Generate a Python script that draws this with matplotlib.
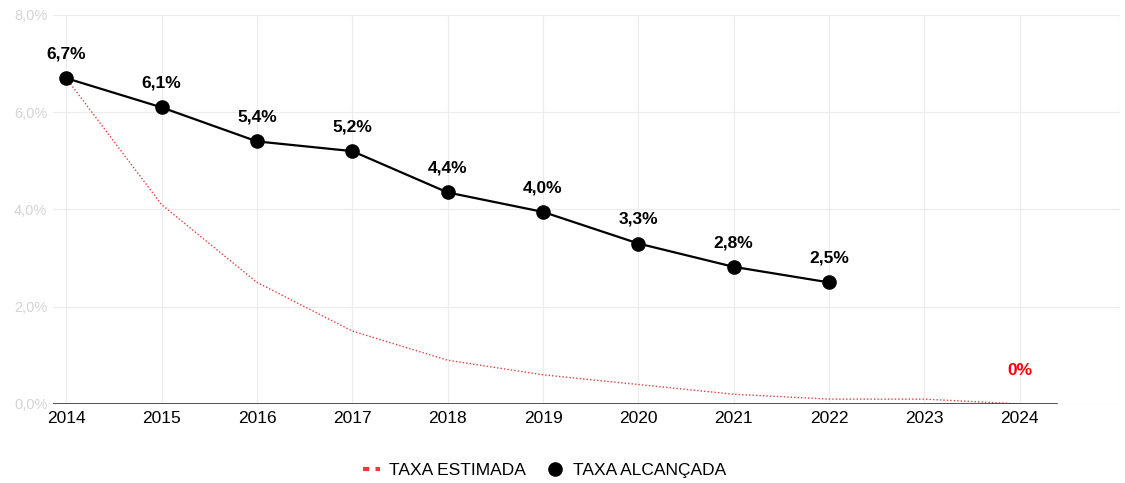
import matplotlib.pyplot as plt
from matplotlib.lines import Line2D

# dados
anos = [2014, 2015, 2016, 2017, 2018, 2019, 2020, 2021, 2022, 2023, 2024]
taxa_estimada = [6.7, 4.1, 2.5, 1.5, 0.9, 0.6, 0.4, 0.2, 0.1, 0.1, 0.0]
anos_alcancada = [2014, 2015, 2016, 2017, 2018, 2019, 2020, 2021, 2022]
taxa_alcancada = [6.7, 6.1, 5.4, 5.2, 4.35, 3.95, 3.3, 2.82, 2.5]
rotulos = ["6,7%", "6,1%", "5,4%", "5,2%", "4,4%", "4,0%", "3,3%", "2,8%", "2,5%"]
yticks = [0, 2, 4, 6, 8]
ytick_labels = ["0,0%", "2,0%", "4,0%", "6,0%", "8,0%"]

fig = plt.figure(figsize=(11.25, 4.83), dpi=100)
ax = fig.add_axes([0.047, 0.1636, 0.9485, 0.8054])

# linha estimada (pontilhada vermelha)
ax.plot(anos, taxa_estimada, color="#f03a3a", linestyle=(0, (1, 1.5)), linewidth=1.0, zorder=2)

# linha alcancada
ax.plot(anos_alcancada, taxa_alcancada, color="black", linewidth=1.6,
        marker="o", markersize=9.5, zorder=3)

for x, y, txt in zip(anos_alcancada, taxa_alcancada, rotulos):
    ax.annotate(txt, (x, y), xytext=(0, 12), textcoords="offset points",
                ha="center", va="bottom", fontsize=12.5, fontweight="bold",
                family="Liberation Sans", color="black")

ax.annotate("0%", (anos[-1], taxa_estimada[-1]), xytext=(0, 19), textcoords="offset points",
            ha="center", va="bottom", fontsize=12.5, fontweight="bold",
            family="Liberation Sans", color="#ff0000")

ax.set_xlim(2013.86, 2025.05)
ax.set_ylim(0, 8)
ax.set_xticks(anos)
ax.set_xticklabels([str(a) for a in anos], family="Liberation Sans", fontsize=12.5)
ax.set_yticks(yticks)
ax.set_yticklabels(ytick_labels, family="Liberation Sans", fontsize=10.5, color="#d4d4d4")
ax.tick_params(axis="both", length=0)
ax.tick_params(axis="x", pad=5)
ax.tick_params(axis="y", pad=4)

ax.grid(True, color="#ececec", linewidth=0.8)
ax.set_axisbelow(True)
for s in ax.spines.values():
    s.set_visible(False)
ax.axhline(0, xmin=0, xmax=(2024.39 - 2013.86) / (2025.05 - 2013.86), color="#333333", linewidth=1.2, zorder=4)
ax.axvline(2025.05, color="#ececec", linewidth=0.8)

handles = [
    Line2D([0], [0], color="#f03a3a", linestyle=(0, (1.5, 1.5)), linewidth=3),
    Line2D([0], [0], color="black", marker="o", linestyle="none", markersize=9.5),
]
fig.legend(handles, ["TAXA ESTIMADA", "TAXA ALCANÇADA"], loc="center",
           bbox_to_anchor=(0.484, 0.026), ncol=2, frameon=False,
           prop={"family": "Liberation Sans", "size": 12.5},
           handlelength=1.0, handletextpad=0.5, columnspacing=1.2)

fig.savefig("out.png", dpi=100)
